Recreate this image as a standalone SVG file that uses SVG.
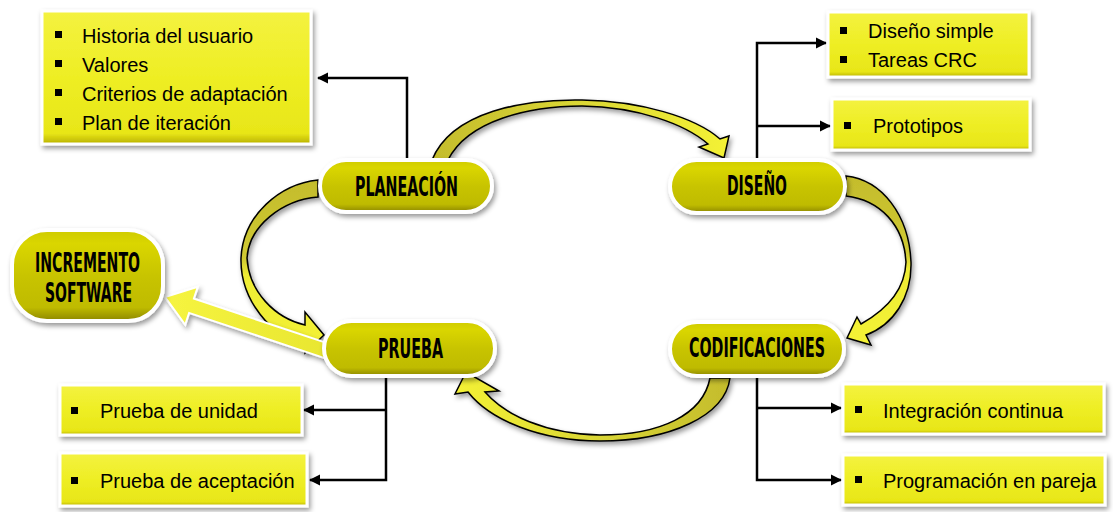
<svg xmlns="http://www.w3.org/2000/svg" width="1113" height="512" viewBox="0 0 1113 512">
<defs>
  <filter id="sh" x="-20%" y="-20%" width="140%" height="150%">
    <feDropShadow dx="2" dy="3" stdDeviation="2.5" flood-color="#000" flood-opacity="0.4"/>
  </filter>
  <linearGradient id="pillG" x1="0" y1="0" x2="0" y2="1">
    <stop offset="0" stop-color="#cfcb00"/>
    <stop offset="0.15" stop-color="#dad600"/>
    <stop offset="0.5" stop-color="#c8c400"/>
    <stop offset="0.85" stop-color="#bfbb00"/>
    <stop offset="1" stop-color="#8c8600"/>
  </linearGradient>
  <linearGradient id="boxG" x1="0" y1="0" x2="0" y2="1">
    <stop offset="0" stop-color="#f4f240"/>
    <stop offset="0.5" stop-color="#eeee24"/>
    <stop offset="0.92" stop-color="#e8e618"/>
    <stop offset="1" stop-color="#b8b000"/>
  </linearGradient>
  <linearGradient id="hLR" x1="0" y1="0" x2="1" y2="0">
    <stop offset="0" stop-color="#c4bc2c"/>
    <stop offset="0.45" stop-color="#d8d434"/>
    <stop offset="1" stop-color="#f4f236"/>
  </linearGradient>
  <linearGradient id="hRL" x1="1" y1="0" x2="0" y2="0">
    <stop offset="0" stop-color="#c4bc2c"/>
    <stop offset="0.45" stop-color="#d8d434"/>
    <stop offset="1" stop-color="#f4f236"/>
  </linearGradient>
  <linearGradient id="vTB" x1="0" y1="0" x2="0" y2="1">
    <stop offset="0" stop-color="#c4bc2c"/>
    <stop offset="0.45" stop-color="#cfc932"/>
    <stop offset="0.55" stop-color="#eeec36"/>
    <stop offset="1" stop-color="#f4f236"/>
  </linearGradient>
  <linearGradient id="incG" x1="1" y1="0" x2="0" y2="0">
    <stop offset="0" stop-color="#e8e630"/>
    <stop offset="1" stop-color="#f6f440"/>
  </linearGradient>
  <marker id="ah" viewBox="0 0 10 10" refX="9" refY="5" markerWidth="4.5" markerHeight="4.5" orient="auto" markerUnits="strokeWidth">
    <path d="M0,0 L10,5 L0,10 Z" fill="#000"/>
  </marker>
  <style>
    .pill{fill:url(#pillG);stroke:#fff;stroke-width:4;filter:url(#sh)}
    .box{fill:url(#boxG);stroke:#fff;stroke-width:3;filter:url(#sh)}
    .ptxt{font-family:"DejaVu Sans Condensed","DejaVu Sans",sans-serif;font-weight:bold;font-size:26px;fill:#000}
    .btxt{font-family:"Liberation Sans",Arial,sans-serif;font-size:20px;fill:#000}
    .bul{fill:#000}
    .conn{fill:none;stroke:#000;stroke-width:2.5}
    .carrow{stroke:#000;stroke-width:1.5;stroke-linejoin:miter;filter:url(#sh)}
  </style>
</defs>
<rect width="1113" height="512" fill="#fff"/>

<g id="cycle-arrows">
  <path class="carrow" fill="url(#hLR)" d="M 432 160 C 452 111, 525 99, 582 100 C 640 101, 695 117, 720 139 L 729 136 L 724 158 L 699 147 L 708 144 C 685 124, 638 107, 582 106 C 530 106, 468 120, 448 160 Z"/>
  <path class="carrow" fill="url(#vTB)" d="M 846 176 C 882 180, 909 215, 911 262 C 912 298, 893 325, 866 335 L 871 345 L 847 338 L 857 317 L 861 324 C 886 310, 905 290, 906 262 C 904 225, 880 200, 846 196 Z"/>
  <path class="carrow" fill="url(#hRL)" d="M 730 378 C 725 416, 670 441, 600 441 C 540 441, 490 420, 468 392 L 455 394 L 466 372 L 499 391 L 485 392 C 505 415, 545 434, 600 435 C 660 435, 703 415, 710 378 Z"/>
  <path class="carrow" fill="url(#vTB)" d="M 318 180 C 280 184, 243 215, 241 258 C 240 300, 272 338, 305 344 L 305 353 L 324 335 L 305 312 L 305 325 C 275 318, 249 292, 247 258 C 249 226, 282 200, 318 197 Z"/>
  <path fill="url(#incG)" stroke="#fff" stroke-width="2" filter="url(#sh)" d="M 332.4 344.9 L 193.9 298.7 L 197.8 286.8 L 165 297 L 185.2 324.8 L 189.1 312.9 L 327.6 359.1 Z"/>
</g>

<g id="connectors">
  <polyline class="conn" points="407,160 407,78 318,78" marker-end="url(#ah)"/>
  <polyline class="conn" points="757,160 757,43 826,43" marker-end="url(#ah)"/>
  <polyline class="conn" points="757,126 830,126" marker-end="url(#ah)"/>
  <polyline class="conn" points="386,376 386,480 310,480" marker-end="url(#ah)"/>
  <polyline class="conn" points="386,410 304,410" marker-end="url(#ah)"/>
  <polyline class="conn" points="757,376 757,480 841,480" marker-end="url(#ah)"/>
  <polyline class="conn" points="757,408 841,408" marker-end="url(#ah)"/>
</g>

<g id="planeacion">
  <rect class="pill" x="320" y="160" width="172" height="52" rx="26"/>
  <text class="ptxt" x="355" y="196" textLength="103" lengthAdjust="spacingAndGlyphs">PLANEACIÓN</text>
</g>
<g id="diseno">
  <rect class="pill" x="670" y="160" width="175" height="53" rx="26.5"/>
  <text class="ptxt" x="727" y="195" textLength="60" lengthAdjust="spacingAndGlyphs">DISEÑO</text>
</g>
<g id="codificaciones">
  <rect class="pill" x="670" y="322" width="174" height="54" rx="27"/>
  <text class="ptxt" x="689" y="357" textLength="136" lengthAdjust="spacingAndGlyphs">CODIFICACIONES</text>
</g>
<g id="prueba">
  <rect class="pill" x="324" y="321" width="171" height="55" rx="27.5"/>
  <text class="ptxt" x="378" y="358" textLength="65" lengthAdjust="spacingAndGlyphs">PRUEBA</text>
</g>
<g id="incremento">
  <rect class="pill" x="12" y="230" width="151" height="91" rx="35"/>
  <text class="ptxt" x="35" y="272" textLength="105" lengthAdjust="spacingAndGlyphs">INCREMENTO</text>
  <text class="ptxt" x="45" y="302" textLength="87" lengthAdjust="spacingAndGlyphs">SOFTWARE</text>
</g>

<g id="box-planeacion">
  <rect class="box" x="42" y="11" width="269" height="133"/>
  <rect class="bul" x="55" y="31" width="7" height="7"/>
  <text class="btxt" x="82" y="43">Historia del usuario</text>
  <rect class="bul" x="55" y="60" width="7" height="7"/>
  <text class="btxt" x="82" y="72">Valores</text>
  <rect class="bul" x="55" y="89" width="7" height="7"/>
  <text class="btxt" x="82" y="101">Criterios de adaptación</text>
  <rect class="bul" x="55" y="118" width="7" height="7"/>
  <text class="btxt" x="82" y="130">Plan de iteración</text>
</g>
<g id="box-diseno">
  <rect class="box" x="828" y="12" width="201" height="65"/>
  <rect class="bul" x="840" y="27" width="7" height="7"/>
  <text class="btxt" x="868" y="38">Diseño simple</text>
  <rect class="bul" x="840" y="56" width="7" height="7"/>
  <text class="btxt" x="868" y="67">Tareas CRC</text>
</g>
<g id="box-prototipos">
  <rect class="box" x="832" y="99" width="198" height="51"/>
  <rect class="bul" x="844" y="122" width="7" height="7"/>
  <text class="btxt" x="873" y="133">Prototipos</text>
</g>
<g id="box-unidad">
  <rect class="box" x="60" y="385" width="242" height="50"/>
  <rect class="bul" x="71" y="407" width="7" height="7"/>
  <text class="btxt" x="100" y="418">Prueba de unidad</text>
</g>
<g id="box-aceptacion">
  <rect class="box" x="60" y="453" width="247" height="53"/>
  <rect class="bul" x="71" y="477" width="7" height="7"/>
  <text class="btxt" x="100" y="488">Prueba de aceptación</text>
</g>
<g id="box-integracion">
  <rect class="box" x="843" y="384" width="261" height="50"/>
  <rect class="bul" x="855" y="406" width="7" height="7"/>
  <text class="btxt" x="883" y="418">Integración continua</text>
</g>
<g id="box-pareja">
  <rect class="box" x="843" y="455" width="262" height="50"/>
  <rect class="bul" x="855" y="476" width="7" height="7"/>
  <text class="btxt" x="883" y="488">Programación en pareja</text>
</g>
</svg>
